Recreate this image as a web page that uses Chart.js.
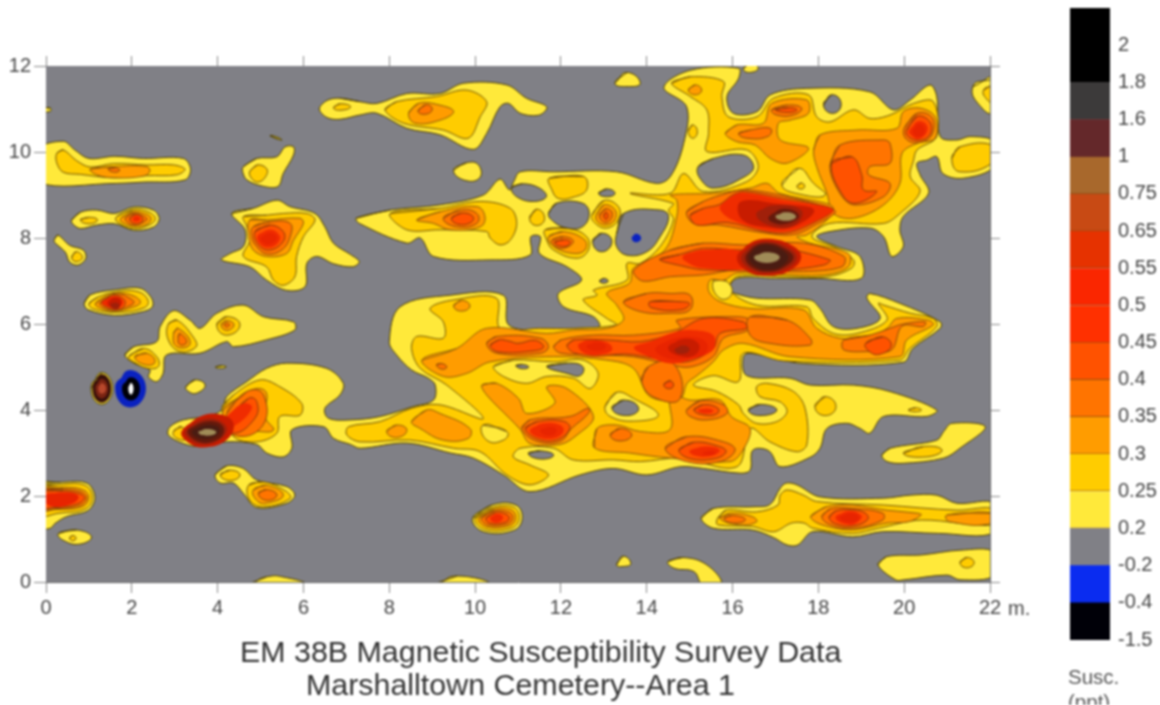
<!DOCTYPE html>
<html>
<head>
<meta charset="utf-8">
<title>EM 38B Magnetic Susceptibility Survey Data</title>
<script src="https://cdn.jsdelivr.net/npm/chart.js@4/dist/chart.umd.min.js"></script>
<style>
    html, body { margin: 0; padding: 0; background: #fff; overflow: hidden; }
    #page { position: relative; width: 1160px; height: 705px; overflow: hidden; filter: blur(0.8px);
        font-family: "Liberation Sans", Arial, sans-serif; color: #333; }
    #mapBox { position: absolute; left: 0; top: 0; width: 1040px; height: 640px; }
    #barBox { position: absolute; left: 1060px; top: -4px; width: 100px; height: 664px; }
    .title { position: absolute; white-space: nowrap; font-size: 30.4px; line-height: 36px; }
    .unit { position: absolute; left: 1008px; top: 597px; font-size: 20px; color: #444; }
    .susc { position: absolute; left: 1068px; font-size: 20.5px; line-height: 20px; color: #555; }
</style>
</head>
<body>
<div id="page">
    <div id="mapBox"><canvas id="map" width="1040" height="640"></canvas></div>
    <div id="barBox"><canvas id="bar" width="100" height="664"></canvas></div>
    <div class="unit">m.</div>
    <div class="title" style="left:240px;top:633px">EM 38B Magnetic Susceptibility Survey Data</div>
    <div class="title" style="left:306px;top:666px">Marshalltown Cemetery--Area 1</div>
    <div class="susc" style="top:667px">Susc.</div>
    <div class="susc" style="top:692px">(ppt)</div>
</div>
<script>
// colour scale, bottom to top
const bandLabels = ['-1.5', '-0.4', '-0.2', '0.2', '0.25', '0.3', '0.35', '0.4', '0.45', '0.5', '0.55', '0.65', '0.75', '1', '1.6', '1.8', '2'];
const bandColors = ['#000008', '#0a2cf0', '#808086', '#ffe93a', '#ffcc00', '#ff9c00', '#ff7400', '#ff5200', '#ff3000', '#fa2600', '#e63200', '#c84a14', '#a8682c', '#64282a', '#3c3a3a', '#000000', '#000000'];

const xTicks = [0, 2, 4, 6, 8, 10, 12, 14, 16, 18, 20, 22];
const yTicks = [0, 2, 4, 6, 8, 10, 12];

// contour outlines, each one x,y,x,y... in metres
const level20 = [
    [0 - 0.2, 9.3, -0.2, 10.05, 0.4, 10.25, 0.67, 10.05, 1.0, 9.85, 1.6, 9.9, 2.27, 9.85, 3.2, 9.85, 3.37, 9.6, 3.24, 9.35, 2.27, 9.3, 1.65, 9.27],
    [0.6, 8.42, 0.8, 8.6, 1.18, 8.65, 1.6, 8.57, 2.04, 8.72, 2.5, 8.65, 2.64, 8.45, 2.5, 8.25, 2.04, 8.18, 1.6, 8.33, 1.18, 8.3, 0.8, 8.22, 0.62, 8.33],
    [0.2, 7.98, 0.28, 8.07, 0.55, 7.83, 0.87, 7.72, 0.93, 7.53, 0.75, 7.37, 0.55, 7.44, 0.45, 7.67, 0.2, 7.9],
    [0.89, 6.48, 1.03, 6.68, 1.65, 6.8, 2.2, 6.83, 2.46, 6.6, 2.48, 6.4, 2.27, 6.29, 1.6, 6.2, 0.98, 6.33],
    [4.33, 8.57, 4.83, 8.69, 5.38, 8.88, 5.69, 8.73, 6.27, 8.57, 6.5, 8.26, 6.7, 7.88, 7.09, 7.62, 7.3, 7.45, 7.15, 7.33, 6.7, 7.4, 6.31, 7.57, 6.08, 7.41, 6.04, 6.87, 5.61, 6.78, 5.14, 7.02, 4.75, 7.33, 4.09, 7.49, 4.29, 7.64, 4.6, 7.8, 4.64, 8.19],
    [4.6, 9.66, 4.91, 9.85, 5.38, 9.89, 5.57, 10.12, 5.77, 10.12, 5.77, 9.93, 5.53, 9.5, 5.41, 9.2, 5.07, 9.2, 4.68, 9.35, 4.58, 9.55],
    [5.22, 10.38, 5.4, 10.3, 5.5, 10.28, 5.35, 10.36],
    [6.85, 11.25, 7.32, 11.17, 7.71, 11.13, 8.41, 11.36, 9.18, 11.36, 9.73, 11.6, 10.74, 11.56, 11.2, 11.25, 11.67, 11.05, 11.5, 10.86, 11.05, 10.9, 10.78, 11.13, 10.58, 11.05, 10.27, 10.43, 9.96, 10.06, 9.18, 10.4, 8.41, 10.55, 7.71, 10.9, 7.32, 10.86, 6.85, 10.76, 6.55, 10.8, 6.37, 11, 6.55, 11.2],
    [13.26, 11.6, 13.54, 11.85, 13.85, 11.6, 13.54, 11.52],
    [9.5, 9.58, 9.8, 9.75, 10.08, 9.7, 10.1, 9.39, 9.73, 9.35],
    [7.23, 8.46, 8.02, 8.65, 9.18, 8.77, 10.19, 9.0, 10.58, 9.37, 10.8, 9.12, 10.9, 9.31, 11.05, 9.54, 11.83, 9.54, 13.3, 9.54, 14.23, 9.27, 14.55, 9.43, 14.86, 10.2, 14.93, 11.05, 14.4, 11.5, 15.01, 11.9, 16.14, 11.95, 16.14, 11.71, 15.87, 11.29, 16.02, 10.9, 16.57, 10.94, 16.88, 11.33, 17.73, 11.48, 19.2, 11.4, 19.75, 10.98, 20.14, 11.21, 20.6, 11.56, 20.76, 11.29, 20.84, 10.36, 21.23, 10.28, 21.54, 10.36, 22.1, 10.24, 22.1, 9.66, 21.38, 9.39, 20.9, 9.5, 20.76, 9.89, 20.53, 9.81, 20.3, 9.74, 20.37, 9.47, 20.57, 9.04, 19.98, 8.5, 19.9, 8.19, 19.98, 7.8, 19.71, 7.57, 19.52, 8.03, 19.2, 8.23, 18.27, 8.15, 17.96, 8.03, 18.43, 7.8, 18.97, 7.57, 19, 7.06, 18, 7.06, 17, 7.06, 16.1, 7.06, 15.9, 6.79, 16.06, 6.71, 16.56, 6.6, 17.81, 6.56, 18.04, 6.36, 18.35, 5.94, 18.9, 5.9, 19.44, 6.13, 19.13, 6.6, 19.2, 6.71, 19.9, 6.48, 20.84, 6.05, 20.84, 5.9, 20.2, 5.43, 19.98, 5.11, 17.65, 5.08, 16.41, 5.32, 16.25, 5.24, 16.33, 4.8, 17.34, 4.74, 17.81, 4.58, 18.82, 4.58, 19.67, 4.43, 20.76, 4.0, 20.53, 3.85, 19.52, 3.85, 19.2, 3.46, 18.97, 3.57, 18.66, 3.69, 18.2, 3.57, 18.04, 3.11, 17.81, 2.9, 17.11, 2.68, 16.87, 3.03, 16.6, 3.11, 16.45, 3.03, 16.41, 2.6, 16.18, 2.53, 15.32, 2.64, 14.78, 2.68, 14, 2.49, 13.22, 2.64, 12.45, 2.49, 11.28, 2.1, 10.66, 2.49, 9.96, 2.88, 9.42, 3.0, 8.41, 3.23, 7.32, 3.11, 7.09, 3.2, 6.7, 3.34, 6.47, 3.61, 5.73, 3.54, 5.73, 3.11, 5.53, 2.91, 5.14, 3.0, 4.91, 3.2, 4.21, 3.26, 3.59, 3.15, 3.2, 3.22, 2.85, 3.42, 2.89, 3.61, 3.2, 3.77, 3.74, 3.85, 4.1, 4.0, 4.21, 4.31, 4.68, 4.66, 5.14, 4.97, 5.61, 5.09, 6.54, 4.97, 6.93, 4.62, 6.85, 4.35, 6.5, 4.04, 6.58, 3.81, 7.09, 3.77, 7.79, 3.85, 8.56, 4.08, 9.03, 4.23, 9.07, 4.58, 8.91, 4.74, 8.52, 4.93, 8.17, 5.28, 8.0, 5.59, 8.25, 6.4, 9.42, 6.67, 10.66, 6.67, 10.78, 5.98, 11.52, 5.86, 12.45, 5.9, 12.9, 5.94, 12.76, 6.17, 12.06, 6.4, 11.94, 6.71, 12.48, 7.02, 12.14, 7.33, 11.5, 7.64, 11.52, 8.03, 11.3, 8.03, 11.28, 7.6, 10.35, 7.49, 9.03, 7.57, 8.72, 8.0, 8.41, 7.88, 7.3, 8.34],
    [16.25, 11.93, 16.4, 12.05, 16.6, 11.95, 16.4, 11.85],
    [21.6, 11.52, 22.1, 11.71, 22.1, 10.94, 21.85, 10.98],
    [1.84, 5.28, 2.04, 5.47, 2.58, 5.59, 2.66, 5.94, 2.97, 6.31, 3.36, 6.09, 3.59, 5.9, 3.98, 6.25, 4.6, 6.44, 5.07, 6.17, 5.77, 6.05, 5.8, 5.86, 5.14, 5.63, 4.37, 5.47, 4.21, 5.59, 3.59, 5.32, 2.81, 5.28, 2.73, 4.85, 2.58, 4.66, 2.39, 4.77, 2.42, 4.93, 2.04, 5.09],
    [3.95, 5.0, 4.1, 5.03, 4.2, 5.0, 4.05, 4.97],
    [3.26, 4.54, 3.47, 4.7, 3.71, 4.58, 3.51, 4.39, 3.32, 4.43],
    [3.94, 2.49, 4.21, 2.7, 4.6, 2.64, 4.91, 2.37, 5.61, 2.22, 5.8, 2.02, 5.61, 1.83, 4.91, 1.73, 4.6, 2.06, 4.37, 2.3, 4.06, 2.3],
    [-0.2, 2.28, 0.33, 2.32, 0.95, 2.3, 1.14, 1.98, 0.99, 1.67, 0.48, 1.52, 0.21, 1.36, 0.1, 1.25, -0.2, 1.25],
    [0.29, 1.13, 0.71, 1.21, 1.06, 1.05, 0.79, 0.88, 0.4, 0.97],
    [4.79, -0.05, 5.14, 0.12, 5.61, 0.1, 6.04, -0.05],
    [9.13, -0.05, 9.58, 0.14, 10.34, -0.05],
    [9.94, 1.48, 10.39, 1.79, 10.95, 1.79, 11.1, 1.48, 10.9, 1.2, 10.19, 1.17],
    [13.3, 0.4, 13.45, 0.6, 13.63, 0.43, 13.45, 0.36],
    [14.49, 0.47, 14.84, 0.57, 15.4, 0.4, 15.75, -0.05, 15.3, -0.05, 15.1, 0.24, 14.64, 0.32],
    [19.39, 0.4, 19.59, 0.59, 20.4, 0.63, 21.3, 0.74, 22.1, 0.7, 22.1, 0.15, 21.3, 0.05, 21.0, 0.16, 20, 0.05, 19.8, 0.05],
    [15.27, 1.48, 15.55, 1.71, 16.5, 1.75, 16.87, 1.8, 17.11, 2.18, 17.25, 2.3, 17.5, 2.26, 18.04, 1.98, 19.52, 1.95, 20.14, 2.02, 20.76, 2.02, 21.23, 1.83, 22.1, 1.83, 22.1, 1.15, 20.8, 1.13, 19.5, 1.17, 18.8, 1.05, 17.87, 1.17, 17.52, 0.86, 17.27, 0.86, 16.96, 1.03, 16.46, 1.21, 15.55, 1.25],
    [19.48, 2.95, 19.67, 3.11, 20.76, 3.3, 20.92, 3.5, 21.11, 3.69, 21.89, 3.61, 21.3, 3.11, 20.92, 2.88, 19.98, 2.76, 19.6, 2.8],
    [1.05, 4.5, 1.3, 4.87, 1.55, 4.5, 1.3, 4.13],
    [-0.1, 11.02, 0.1, 11.02, 0.1, 10.95, -0.1, 10.95]
];

const level25 = [
    [0.25, 9.97, 0.4, 10.05, 0.71, 9.8, 1.03, 9.65, 1.57, 9.73, 2.35, 9.7, 2.97, 9.7, 3.24, 9.6, 3.05, 9.47, 2.35, 9.45, 1.57, 9.4, 0.8, 9.48, 0.4, 9.53, 0.25, 9.75],
    [0.8, 8.42, 1.0, 8.48, 1.2, 8.42, 1.0, 8.33],
    [1.65, 8.5, 2.04, 8.67, 2.4, 8.6, 2.55, 8.45, 2.4, 8.3, 2.04, 8.22, 1.65, 8.38],
    [0.6, 7.55, 0.7, 7.68, 0.85, 7.55, 0.7, 7.45],
    [1.0, 6.47, 1.2, 6.62, 1.65, 6.75, 2.15, 6.75, 2.38, 6.55, 2.3, 6.38, 1.65, 6.27, 1.1, 6.35],
    [4.6, 8.5, 5.14, 8.53, 5.53, 8.57, 6.08, 8.57, 6.27, 8.42, 6.0, 8.03, 5.84, 7.57, 5.8, 7.1, 5.53, 6.9, 5.3, 7.02, 5.14, 7.33, 4.6, 7.57, 4.75, 7.95, 4.68, 8.26],
    [4.75, 9.55, 4.93, 9.7, 5.15, 9.6, 5.1, 9.4, 4.93, 9.3, 4.78, 9.4],
    [7.9, 10.98, 8.17, 11.17, 9.1, 11.29, 9.8, 11.44, 10.27, 11.17, 10.12, 10.82, 9.84, 10.32, 9.26, 10.51, 8.33, 10.67],
    [6.7, 11.03, 6.85, 11.12, 7.1, 11.05, 6.85, 10.97],
    [14.58, 11.6, 15.01, 11.75, 15.79, 11.64, 15.75, 11.29, 15.9, 10.82, 16.57, 10.82, 16.95, 11.25, 17.77, 11.33, 17.96, 10.82, 18.27, 10.7, 18.82, 10.98, 19.2, 10.78, 19.67, 10.86, 20.22, 11.13, 20.68, 11.17, 20.76, 10.36, 20.3, 10.05, 20.22, 9.81, 20.14, 9.43, 20.37, 9.08, 19.9, 8.57, 19.52, 8.34, 18.27, 8.34, 17.85, 8.03, 18.43, 7.76, 18.82, 7.49, 18.78, 7.3, 18.2, 7.1, 17.2, 7.1, 16.1, 7.1, 15.94, 6.79, 16.56, 6.44, 17.73, 6.4, 17.88, 6.13, 18.35, 5.78, 18.9, 5.78, 19.6, 6.09, 19.4, 6.48, 19.52, 6.44, 20.14, 6.25, 20.68, 6.13, 20.76, 5.94, 20.13, 5.43, 19.9, 5.16, 17.18, 5.14, 16.25, 5.32, 16.14, 4.66, 15.55, 4.8, 15.09, 4.58, 15.63, 4.43, 16.14, 4.12, 16.25, 3.92, 16.56, 3.69, 17.03, 3.73, 17.27, 3.96, 17.11, 4.19, 16.64, 4.31, 16.56, 4.54, 16.8, 4.62, 17.42, 4.43, 17.69, 4.04, 17.73, 3.19, 17.5, 3.03, 16.87, 3.26, 16.41, 3.57, 16.1, 2.68, 14.78, 2.88, 13.85, 2.8, 13.22, 2.84, 12.29, 2.84, 11.83, 3.11, 11.05, 3.11, 10.89, 2.91, 11.28, 2.72, 11.71, 2.49, 11.28, 2.26, 10.74, 2.49, 10.12, 3.03, 9.5, 3.11, 8.48, 3.3, 7.32, 3.26, 7.01, 3.42, 7.05, 3.61, 7.79, 3.73, 8.52, 4.04, 9.18, 4.12, 10.19, 3.8, 9.34, 4.58, 8.72, 4.97, 8.52, 5.43, 8.64, 5.71, 9.26, 5.67, 9.26, 6.05, 8.95, 6.36, 9.5, 6.56, 10.5, 6.6, 10.58, 5.9, 11.5, 5.9, 12.29, 5.9, 13.29, 5.98, 13.07, 6.13, 12.52, 6.56, 12.84, 6.67, 12.76, 6.79, 13.54, 7.02, 13.54, 7.41, 13.85, 7.41, 14.31, 7.8, 14.62, 8.42, 14.51, 8.65, 14.62, 8.8, 13.61, 9.04, 14.55, 9.04, 14.86, 9.5, 15.32, 9.08, 16.33, 9.31, 16.6, 9.66, 16.33, 10.05, 15.4, 10.01, 15.44, 10.43, 15.4, 10.98, 15.0, 11.3],
    [21.11, 9.85, 21.3, 10.12, 22.1, 10.14, 22.1, 9.78, 21.3, 9.54],
    [21.85, 11.44, 22.1, 11.55, 22.1, 11.15, 21.95, 11.2],
    [11.73, 9.39, 12.53, 9.43, 12.6, 9.12, 12.29, 8.95, 11.94, 8.92, 11.79, 9.12],
    [11.27, 8.46, 11.44, 8.67, 11.62, 8.46, 11.44, 8.29],
    [11.63, 8.19, 12.14, 8.23, 12.6, 8.03, 12.64, 7.72, 12.37, 7.53, 11.83, 7.72, 11.67, 7.95],
    [12.72, 8.53, 13.0, 8.87, 13.34, 8.73, 13.34, 8.42, 13.07, 8.23, 12.8, 8.34],
    [8.02, 8.57, 9.18, 8.69, 10.12, 8.85, 10.82, 8.69, 10.97, 8.34, 10.82, 7.95, 10.58, 7.84, 10.35, 8.0, 10.27, 8.15, 9.18, 8.19, 8.41, 8.19],
    [2.85, 6.0, 3.05, 6.09, 3.43, 5.7, 3.5, 5.47, 3.12, 5.36, 2.85, 5.63],
    [1.92, 5.24, 2.27, 5.43, 2.58, 5.24, 2.62, 5.01, 2.35, 4.97, 2.04, 5.12],
    [3.98, 5.98, 4.21, 6.17, 4.52, 5.98, 4.21, 5.74],
    [4.1, 4.04, 4.37, 4.35, 4.99, 4.7, 5.45, 4.54, 5.96, 4.15, 5.92, 3.88, 5.45, 3.85, 5.38, 3.46, 4.91, 3.26, 4.37, 3.38],
    [2.97, 3.5, 3.16, 3.61, 3.28, 3.34, 3.05, 3.34],
    [4.06, 2.49, 4.29, 2.6, 4.52, 2.49, 4.29, 2.36],
    [4.72, 2.25, 5.07, 2.33, 5.61, 2.1, 5.69, 1.94, 5.07, 1.75, 4.75, 1.9],
    [-0.2, 2.2, 0.33, 2.27, 0.9, 2.25, 1.08, 1.98, 0.92, 1.7, 0.3, 1.6, -0.2, 1.55],
    [0.55, 1.02, 0.62, 1.08, 0.7, 1.02, 0.62, 0.96],
    [10.0, 1.48, 10.42, 1.74, 10.9, 1.74, 11.03, 1.48, 10.85, 1.25, 10.22, 1.22],
    [15.65, 1.48, 15.85, 1.67, 16.56, 1.63, 17.06, 1.79, 17.11, 2.02, 17.27, 2.14, 17.65, 2.02, 17.96, 1.87, 19.52, 1.79, 21.23, 1.67, 22.1, 1.7, 22.1, 1.33, 20.4, 1.44, 19.4, 1.25, 18.8, 1.13, 17.87, 1.25, 17.67, 1.37, 17.37, 1.37, 16.96, 1.17, 16.46, 1.29, 15.65, 1.33],
    [19.98, 2.99, 20.45, 3.15, 20.88, 3.07, 20.53, 2.91],
    [21.3, 0.45, 21.46, 0.57, 21.63, 0.45, 21.46, 0.33]
];

// light yellow pockets lying inside the 0.25 area
const pale = [
    [17.15, 9.23, 17.54, 9.62, 17.89, 9.27, 18.16, 9.0, 17.65, 9.0],
    [10.43, 5.01, 10.89, 5.16, 11.83, 5.12, 12.52, 5.16, 12.87, 4.85, 12.68, 4.5, 12.29, 4.74, 11.67, 4.78, 11.2, 4.62, 10.66, 4.78],
    [13.03, 4.08, 13.3, 4.41, 13.69, 4.27, 14.27, 3.88, 13.69, 3.74, 13.15, 3.85],
    [10.19, 3.65, 10.74, 3.5, 10.66, 3.3, 10.27, 3.3],
    [15.24, 3.53, 15.48, 3.63, 15.75, 3.56, 15.5, 3.38],
    [15.55, 7.0, 15.85, 7.0, 15.98, 6.7, 15.7, 6.6],
    [15.75, 8.0, 16.3, 8.0, 16.7, 7.95, 16.3, 7.85, 15.8, 7.88]
];

// 0.25 spots sitting on the pale pockets and column
const gold = [
    [14.97, 10.49, 15.07, 10.63, 15.18, 10.47, 15.07, 10.32],
    [17.5, 9.2, 17.6, 9.28, 17.68, 9.2, 17.6, 9.14],
    [17.92, 4.08, 18.16, 4.31, 18.41, 4.08, 18.16, 3.87],
    [20.1, 4.0, 20.26, 4.05, 20.4, 4.0, 20.26, 3.96]
];

// areas back at the grey background level
const holes = [
    [10.85, 9.17, 11.1, 9.26, 11.5, 9.16, 11.66, 8.96, 11.36, 8.85, 10.97, 8.96],
    [11.71, 8.57, 11.9, 8.81, 12.5, 8.81, 12.66, 8.57, 12.5, 8.26, 12.14, 8.23, 11.83, 8.38],
    [12.88, 9.04, 13.07, 9.14, 13.26, 9.04, 13.07, 8.96],
    [12.74, 7.92, 12.95, 8.11, 13.19, 7.92, 12.95, 7.68],
    [13.3, 8.11, 13.46, 8.57, 14.31, 8.65, 14.51, 8.5, 14.31, 8.03, 14, 7.68, 13.54, 7.6, 13.3, 7.8],
    [15.2, 9.66, 15.56, 9.85, 16.25, 9.93, 16.49, 9.66, 16.29, 9.43, 15.56, 9.16, 15.24, 9.39],
    [18.12, 11.09, 18.31, 11.33, 18.53, 11.13, 18.35, 10.9],
    [11.67, 5.01, 12.14, 5.09, 12.51, 5.01, 12.45, 4.8, 12.14, 4.85],
    [10.95, 5.03, 11.1, 5.06, 11.25, 5.0, 11.1, 4.96],
    [13.19, 4.04, 13.46, 4.23, 13.81, 4.04, 13.53, 3.87],
    [11.24, 2.99, 11.52, 3.05, 11.83, 2.95, 11.52, 2.86],
    [16.37, 4.0, 16.64, 4.13, 17.03, 4.0, 16.64, 3.87],
    [12.9, 7.0, 13.0, 7.06, 13.1, 7.0, 13.0, 6.95]
];

const level30 = [
    [1.03, 9.6, 1.57, 9.66, 2.35, 9.66, 2.42, 9.55, 2.27, 9.44, 1.57, 9.4, 1.18, 9.47],
    [1.75, 8.47, 2.04, 8.62, 2.35, 8.55, 2.45, 8.45, 2.35, 8.32, 2.04, 8.27, 1.75, 8.38],
    [1.15, 6.47, 1.4, 6.65, 1.7, 6.72, 2.05, 6.65, 2.2, 6.5, 2.0, 6.38, 1.6, 6.3, 1.3, 6.35],
    [4.75, 8.42, 5.14, 8.42, 5.92, 8.46, 6.0, 8.34, 5.77, 7.95, 5.61, 7.64, 5.14, 7.57, 4.83, 7.72, 4.72, 8.03],
    [8.45, 10.9, 8.68, 11.13, 9.18, 11.09, 9.5, 10.94, 9.18, 10.74, 8.6, 10.67],
    [11.71, 8.03, 12.06, 8.15, 12.56, 7.95, 12.56, 7.72, 12.29, 7.64, 11.83, 7.8],
    [12.82, 8.53, 13.0, 8.77, 13.26, 8.66, 13.26, 8.42, 13.05, 8.3, 12.85, 8.38],
    [8.64, 8.42, 9.18, 8.61, 10.04, 8.73, 10.23, 8.5, 10.12, 8.26, 9.42, 8.19, 9.03, 8.34],
    [14.97, 11.44, 15.13, 11.56, 15.28, 11.44, 15.13, 11.33],
    [15.83, 10.43, 16.1, 10.63, 16.72, 10.67, 16.91, 11.13, 17.73, 11.21, 17.77, 10.9, 17.34, 10.74, 17.07, 10.67, 17.11, 10.28, 17.77, 10.09, 17.27, 9.74, 16.88, 9.85, 16.53, 10.16, 16.1, 10.24],
    [17.89, 10.05, 18.04, 10.4, 18.9, 10.51, 19.83, 10.55, 19.98, 10.94, 20.37, 11.02, 20.72, 10.82, 20.72, 10.32, 20.3, 10.2, 19.95, 9.97, 19.9, 9.27, 19.52, 8.77, 18.82, 8.46, 18.35, 8.57, 18.2, 9.04, 17.96, 9.66],
    [8.76, 5.16, 9.57, 5.43, 10.27, 5.9, 11.67, 5.78, 12.29, 5.86, 13.07, 5.9, 13.46, 6.1, 13.3, 6.44, 13.07, 6.72, 13.6, 6.95, 13.69, 7.3, 14.42, 7.72, 14.7, 8.5, 14.7, 8.88, 14.55, 9.0, 15.55, 9.04, 16.41, 9.16, 16.8, 9.27, 17.1, 9.04, 18.2, 8.8, 18.35, 8.69, 18.2, 8.42, 17.73, 8.07, 17.5, 8.03, 17.81, 7.88, 18.7, 7.64, 18.7, 7.33, 18.12, 7.14, 17, 7.16, 16.1, 7.18, 15.8, 7.02, 15.48, 7.02, 15.45, 6.75, 15.71, 6.52, 16.41, 6.36, 17.65, 6.33, 17.96, 5.9, 18.5, 5.67, 19.13, 5.67, 19.6, 5.9, 19.83, 6.13, 20.57, 6.09, 20.68, 5.98, 20.06, 5.63, 19.9, 5.24, 17.34, 5.24, 16.25, 5.55, 15.79, 5.4, 15.55, 5.12, 15.17, 4.8, 14.94, 4.62, 14.78, 4.27, 14.08, 4.31, 13.69, 4.97, 13.07, 5.16, 11.83, 5.24, 10.35, 5.12, 9.8, 4.85, 9.26, 4.78],
    [10.16, 4.58, 10.5, 4.62, 11.01, 4.27, 11.2, 3.92, 11.86, 4.16, 11.67, 4.54, 12.14, 4.5, 12.76, 3.85, 12.35, 3.4, 11.98, 3.2, 11.28, 3.22, 11.05, 3.55, 10.81, 3.8, 10.27, 4.35],
    [12.78, 3.12, 12.84, 3.57, 13.3, 3.65, 13.85, 3.5, 14.55, 3.55, 14.55, 4.35, 15.01, 4.23, 15.71, 4.23, 15.98, 3.84, 16.41, 3.57, 16.22, 3.03, 15.94, 2.8, 14.55, 2.88, 13.6, 3.0],
    [8.52, 3.73, 8.87, 4.0, 9.18, 3.92, 9.88, 3.57, 9.84, 3.34, 9.26, 3.3, 8.72, 3.57],
    [7.94, 3.5, 8.17, 3.65, 8.41, 3.53, 8.17, 3.36],
    [9.5, 6.42, 9.68, 6.55, 9.88, 6.42, 9.68, 6.3],
    [2.97, 5.78, 3.08, 5.9, 3.36, 5.55, 3.05, 5.47],
    [2.07, 5.24, 2.35, 5.32, 2.54, 5.12, 2.31, 5.05],
    [4.08, 5.98, 4.21, 6.08, 4.38, 5.98, 4.21, 5.85],
    [4.13, 4.0, 4.52, 4.31, 4.91, 4.5, 5.14, 4.39, 5.1, 3.85, 5.3, 3.53, 4.83, 3.5, 4.29, 3.46],
    [4.83, 2.14, 5.14, 2.25, 5.53, 2.02, 5.14, 1.83, 4.91, 1.9],
    [-0.2, 2.15, 0.4, 2.2, 0.85, 2.15, 1.0, 1.98, 0.85, 1.75, 0.2, 1.68, -0.2, 1.65],
    [10.08, 1.48, 10.45, 1.7, 10.85, 1.68, 10.95, 1.48, 10.8, 1.3, 10.25, 1.28],
    [15.7, 1.48, 15.95, 1.6, 16.46, 1.52, 16.56, 1.4, 16.16, 1.33],
    [17.82, 1.52, 18.18, 1.75, 18.8, 1.79, 19.6, 1.67, 20.3, 1.6, 20.4, 1.56, 20.1, 1.4, 19.6, 1.37, 18.8, 1.21, 18.08, 1.33],
    [21, 1.56, 22.1, 1.6, 22.1, 1.37, 21.06, 1.4]
];

const level35 = [
    [1.45, 9.6, 1.6, 9.63, 1.72, 9.58, 1.6, 9.53],
    [1.85, 8.47, 2.06, 8.58, 2.3, 8.5, 2.35, 8.42, 2.06, 8.3, 1.88, 8.38],
    [1.25, 6.48, 1.45, 6.63, 1.7, 6.7, 1.95, 6.6, 2.05, 6.5, 1.9, 6.4, 1.6, 6.32, 1.35, 6.38],
    [4.83, 8.26, 5.22, 8.38, 5.69, 8.34, 5.69, 8.03, 5.49, 7.72, 5.14, 7.63, 4.91, 7.8, 4.79, 8.03],
    [8.67, 10.95, 8.85, 11.1, 9.0, 11.0, 8.85, 10.88],
    [11.79, 7.95, 12.06, 8.03, 12.29, 7.92, 12.06, 7.76, 11.85, 7.82],
    [12.9, 8.52, 13.05, 8.68, 13.2, 8.55, 13.05, 8.36],
    [9.26, 8.46, 9.65, 8.65, 10.04, 8.57, 10.04, 8.34, 9.57, 8.26],
    [16.91, 10.98, 17.27, 11.09, 17.61, 11.02, 17.42, 10.86, 17.03, 10.86],
    [16.14, 10.43, 16.41, 10.51, 16.88, 10.55, 16.84, 10.37, 16.33, 10.32],
    [18.27, 9.66, 18.5, 10.16, 19.52, 10.28, 19.67, 10.2, 19.67, 9.74, 19.2, 9.66, 19.17, 9.47, 19.67, 9.27, 19.52, 8.96, 18.82, 8.77, 18.5, 9.04],
    [20, 10.55, 20.3, 10.9, 20.65, 10.8, 20.65, 10.4, 20.35, 10.22, 20.05, 10.3],
    [10.27, 5.55, 10.5, 5.71, 11.52, 5.67, 11.71, 5.47, 11.52, 5.32, 10.5, 5.32],
    [11.83, 5.47, 12, 5.63, 12.76, 5.74, 13.69, 5.74, 14.78, 5.9, 14.7, 6.09, 16.1, 6.17, 16.41, 6.09, 16.37, 5.86, 15.79, 5.67, 15.55, 5.24, 15.01, 5.0, 14.55, 5.05, 13.69, 5.24, 12.76, 5.28, 12, 5.32],
    [16.41, 6.17, 17.27, 6.09, 17.81, 5.67, 17.81, 5.51, 16.87, 5.55, 16.41, 5.74],
    [18.59, 5.63, 19.2, 5.74, 19.67, 5.9, 19.98, 6.0, 20.49, 6.05, 20.45, 5.94, 19.95, 5.95, 19.71, 5.4, 19.2, 5.36, 18.59, 5.4],
    [13.46, 6.52, 14, 6.71, 14.55, 6.71, 15.01, 6.67, 15.01, 6.33, 14.55, 6.25, 13.85, 6.29],
    [14.55, 7.72, 15.32, 7.88, 16.25, 7.84, 17.65, 7.88, 18.6, 7.57, 18.55, 7.33, 17.65, 7.22, 16.1, 7.26, 15.32, 7.14, 14.55, 7.1, 13.9, 7.0, 13.7, 7.25],
    [14.93, 8.61, 15.32, 8.85, 15.9, 9.05, 16.3, 9.12, 17.2, 8.98, 18.2, 8.72, 18.4, 8.6, 17.96, 8.32, 17.42, 8.08, 16.72, 8.12, 15.7, 8.3, 15.09, 8.34],
    [11.09, 3.57, 11.28, 3.77, 12.21, 3.85, 12.64, 4.04, 12.64, 3.92, 12.25, 3.57, 11.98, 3.27, 11.44, 3.27],
    [13.15, 3.42, 13.38, 3.57, 13.65, 3.42, 13.38, 3.28],
    [14.43, 3.11, 14.93, 3.38, 15.79, 3.26, 16.06, 3.07, 15.71, 2.8, 14.93, 2.8],
    [14.93, 4.0, 15.24, 4.21, 15.79, 4.12, 15.87, 3.92, 15.4, 3.77, 15.01, 3.85],
    [13.88, 4.66, 14.04, 5.01, 14.62, 5.08, 14.78, 4.27, 14.23, 4.27],
    [9.1, 5.05, 9.22, 5.08, 9.34, 5.0, 9.22, 4.95],
    [3.08, 5.7, 3.12, 5.78, 3.28, 5.58, 3.12, 5.52],
    [4.15, 5.98, 4.21, 6.02, 4.28, 5.98, 4.21, 5.93],
    [4.21, 3.92, 4.68, 4.43, 5.07, 4.35, 5.03, 3.61, 4.37, 3.42],
    [4.95, 2.06, 5.14, 2.15, 5.38, 2.02, 5.14, 1.9],
    [-0.2, 2.12, 0.4, 2.16, 0.82, 2.1, 0.95, 1.96, 0.8, 1.78, 0.15, 1.7, -0.2, 1.68],
    [10.15, 1.48, 10.45, 1.66, 10.8, 1.62, 10.88, 1.48, 10.75, 1.34, 10.3, 1.32],
    [15.8, 1.48, 16.0, 1.55, 16.3, 1.45, 16.0, 1.37],
    [18.08, 1.52, 18.28, 1.7, 18.8, 1.71, 19.5, 1.6, 19.5, 1.44, 18.8, 1.25, 18.28, 1.33]
];

const level40 = [
    [1.95, 8.45, 2.08, 8.55, 2.25, 8.47, 2.22, 8.36, 2.06, 8.33],
    [1.3, 6.5, 1.5, 6.65, 1.7, 6.65, 1.85, 6.5, 1.7, 6.33, 1.45, 6.38],
    [4.87, 8.15, 5.22, 8.3, 5.53, 8.15, 5.53, 7.92, 5.22, 7.72, 4.95, 7.84],
    [13, 8.52, 13.05, 8.6, 13.1, 8.52, 13.05, 8.43],
    [11.85, 7.9, 12.06, 7.96, 12.22, 7.9, 12.06, 7.8],
    [9.45, 8.46, 9.68, 8.58, 9.95, 8.5, 9.9, 8.36, 9.6, 8.32],
    [17, 10.98, 17.3, 11.03, 17.5, 10.98, 17.3, 10.92],
    [18.31, 9.74, 18.78, 9.89, 19.01, 9.47, 19.05, 9.12, 19.36, 9.08, 18.9, 8.81, 18.59, 8.96],
    [20.05, 10.5, 20.3, 10.83, 20.6, 10.7, 20.6, 10.4, 20.35, 10.27, 20.1, 10.35],
    [10.35, 5.5, 10.55, 5.63, 10.8, 5.6, 11, 5.55, 11.4, 5.62, 11.6, 5.47, 11.4, 5.38, 10.55, 5.35],
    [12.14, 5.5, 12.3, 5.63, 13.07, 5.63, 13.85, 5.59, 14.62, 5.78, 15.32, 6.13, 16.25, 6.05, 16.33, 5.9, 15.71, 5.78, 15.55, 5.43, 14.93, 5.12, 14.2, 5.2, 13.5, 5.3, 12.8, 5.25, 12.3, 5.33],
    [19.1, 5.55, 19.5, 5.7, 19.7, 5.5, 19.45, 5.3, 19.2, 5.35],
    [14.08, 6.52, 14.78, 6.52, 15, 6.47, 14.8, 6.33, 14.1, 6.38],
    [14.3, 7.5, 14.78, 7.62, 15.32, 7.76, 16.25, 7.72, 16.9, 7.8, 18.27, 7.49, 18.12, 7.37, 17.1, 7.25, 15.32, 7.26, 14.78, 7.36],
    [15.01, 8.53, 15.32, 8.69, 15.7, 8.78, 16.0, 9.0, 16.28, 9.08, 17.18, 8.92, 18.0, 8.78, 18.35, 8.65, 17.95, 8.38, 17.34, 8.13, 16.8, 8.14, 15.87, 8.36, 15.17, 8.3],
    [11.17, 3.57, 11.44, 3.73, 12.06, 3.74, 12.21, 3.57, 11.9, 3.3, 11.44, 3.33],
    [14.75, 3.07, 15.1, 3.25, 15.7, 3.15, 15.85, 3.03, 15.6, 2.87, 15.0, 2.87],
    [15.1, 4.0, 15.3, 4.12, 15.65, 4.05, 15.65, 3.92, 15.35, 3.88],
    [14.4, 4.6, 14.55, 4.68, 14.62, 4.55, 14.48, 4.5],
    [4.29, 3.84, 4.72, 4.27, 4.91, 4.2, 4.87, 3.81, 4.37, 3.46],
    [-0.2, 2.1, 0.4, 2.12, 0.8, 2.05, 0.9, 1.95, 0.7, 1.8, 0.1, 1.72, -0.2, 1.7],
    [10.25, 1.48, 10.48, 1.62, 10.72, 1.58, 10.8, 1.48, 10.7, 1.38, 10.35, 1.36],
    [18.25, 1.5, 18.4, 1.65, 18.8, 1.68, 19.1, 1.6, 19.15, 1.45, 18.8, 1.3, 18.4, 1.35]
];

const level45 = [
    [2.02, 8.45, 2.1, 8.52, 2.2, 8.45, 2.1, 8.38],
    [1.3, 6.5, 1.5, 6.62, 1.7, 6.62, 1.8, 6.5, 1.65, 6.36, 1.45, 6.4],
    [4.93, 8.05, 5.22, 8.2, 5.45, 8.05, 5.4, 7.88, 5.2, 7.78, 5, 7.85],
    [20.12, 10.5, 20.35, 10.72, 20.55, 10.55, 20.35, 10.3, 20.15, 10.4],
    [12.4, 5.5, 12.6, 5.62, 13.05, 5.58, 13.2, 5.42, 13, 5.3, 12.6, 5.3],
    [13.7, 5.45, 14.1, 5.6, 14.55, 5.78, 15.01, 5.86, 15.55, 5.74, 15.55, 5.4, 15.01, 5.16, 14.55, 5.08, 14.1, 5.22],
    [14.86, 7.6, 15.32, 7.72, 16.25, 7.68, 16.41, 7.33, 15.32, 7.3, 14.86, 7.49],
    [15.7, 8.7, 15.95, 8.95, 16.25, 9.05, 17.18, 8.88, 17.9, 8.78, 18.35, 8.65, 17.95, 8.4, 17.34, 8.17, 16.8, 8.17, 16.0, 8.42],
    [11.28, 3.53, 11.59, 3.69, 11.98, 3.65, 12.06, 3.5, 11.83, 3.34, 11.44, 3.38],
    [15.0, 3.05, 15.35, 3.15, 15.7, 3.07, 15.5, 2.93, 15.1, 2.95],
    [15.2, 4.0, 15.45, 4.03, 15.55, 3.97, 15.35, 3.92],
    [4.21, 3.84, 4.6, 4.15, 4.8, 4.04, 4.37, 3.61, 4.13, 3.58],
    [10.35, 1.48, 10.5, 1.58, 10.65, 1.5, 10.5, 1.38],
    [18.4, 1.5, 18.7, 1.65, 19.0, 1.55, 18.95, 1.42, 18.7, 1.33]
];

const level50 = [
    [1.4, 6.5, 1.55, 6.62, 1.72, 6.55, 1.68, 6.38, 1.5, 6.4],
    [5, 8.0, 5.22, 8.12, 5.38, 8.0, 5.2, 7.85, 5.05, 7.9],
    [20.2, 10.48, 20.35, 10.65, 20.48, 10.5, 20.35, 10.35],
    [12.6, 5.48, 12.85, 5.58, 13.05, 5.48, 12.85, 5.37],
    [14.2, 5.42, 14.6, 5.65, 15.1, 5.7, 15.4, 5.55, 15.35, 5.3, 15, 5.2, 14.5, 5.2],
    [11.52, 3.53, 11.79, 3.61, 11.9, 3.5, 11.71, 3.4],
    [15.3, 3.0, 15.5, 3.05, 15.6, 3.0, 15.45, 2.95],
    [18.5, 1.5, 18.75, 1.6, 18.95, 1.5, 18.75, 1.38],
    [-0.05, 2.0, 0.4, 2.08, 0.75, 2.0, 0.6, 1.82, 0.1, 1.77]
];

// the dark cores, brightest contour first
const level55 = [
    [14.5, 5.45, 14.85, 5.65, 15.2, 5.55, 15.15, 5.3, 14.8, 5.25],
    [1.45, 6.5, 1.6, 6.62, 1.75, 6.55, 1.7, 6.38, 1.5, 6.4],
    [16.1, 7.55, 16.4, 7.88, 16.85, 7.98, 17.4, 7.82, 17.6, 7.55, 17.35, 7.25, 16.85, 7.12, 16.35, 7.22],
    [16.2, 8.85, 17.2, 8.78, 17.9, 8.65, 17.45, 8.28, 16.8, 8.25, 16.2, 8.45],
    [3.16, 3.5, 3.59, 3.85, 4.06, 3.9, 4.37, 3.69, 4.21, 3.3, 3.67, 3.13, 3.28, 3.27]
];
const level65 = [
    [14.65, 5.4, 14.85, 5.5, 15, 5.4, 14.8, 5.3],
    [1.5, 6.45, 1.62, 6.5, 1.72, 6.42, 1.62, 6.34],
    [16.2, 7.55, 16.45, 7.83, 16.85, 7.92, 17.3, 7.78, 17.5, 7.55, 17.3, 7.3, 16.85, 7.18, 16.4, 7.28],
    [16.55, 8.55, 16.9, 8.75, 17.6, 8.65, 17.45, 8.3, 16.9, 8.28],
    [3.24, 3.5, 3.59, 3.76, 3.98, 3.78, 4.22, 3.55, 3.98, 3.26, 3.59, 3.2, 3.32, 3.34]
];
const level75 = [
    [16.3, 7.55, 16.5, 7.8, 16.85, 7.88, 17.2, 7.76, 17.42, 7.55, 17.2, 7.32, 16.85, 7.22, 16.45, 7.32],
    [16.85, 8.5, 17.2, 8.68, 17.55, 8.52, 17.25, 8.33, 16.9, 8.38],
    [3.3, 3.5, 3.6, 3.7, 3.98, 3.72, 4.15, 3.53, 3.98, 3.3, 3.59, 3.25]
];
const level100 = [
    [16.38, 7.55, 16.55, 7.78, 16.85, 7.83, 17.15, 7.72, 17.3, 7.55, 17.15, 7.35, 16.85, 7.27, 16.55, 7.33],
    [3.4, 3.5, 3.67, 3.64, 3.98, 3.62, 4.05, 3.5, 3.9, 3.36, 3.59, 3.33]
];
const level160 = [
    [16.5, 7.55, 16.8, 7.67, 17.1, 7.55, 16.8, 7.42],
    [17.0, 8.5, 17.25, 8.6, 17.48, 8.5, 17.25, 8.4],
    [3.55, 3.48, 3.75, 3.56, 3.97, 3.48, 3.75, 3.4]
];

// the two isolated spots at 1.3 m and 2 m
const darkSpot = [[1.08, 4.5, 1.3, 4.83, 1.52, 4.5, 1.3, 4.17]];
const darkSpotMid = [[1.15, 4.5, 1.3, 4.72, 1.45, 4.5, 1.3, 4.27]];
const darkSpotCore = [[1.22, 4.5, 1.3, 4.62, 1.4, 4.5, 1.3, 4.38]];
const levelMinus20 = [
    [1.61, 4.5, 1.96, 4.93, 2.33, 4.5, 1.96, 4.06],
    [13.65, 8, 13.75, 8.1, 13.87, 8, 13.75, 7.9]
];
const levelMinus40 = [[1.77, 4.5, 1.98, 4.76, 2.19, 4.5, 1.98, 4.22]];
const minusCore = [[1.92, 4.5, 1.98, 4.63, 2.04, 4.5, 1.98, 4.36]];

const contourLine = '#4a3a00';
const layers = [
    [level20, bandColors[3], contourLine],
    [level25, bandColors[4], '#6e5206'],
    [pale, bandColors[3], '#6e5206'],
    [gold, bandColors[4], '#6e5206'],
    [holes, bandColors[2], contourLine],
    [level30, bandColors[5], '#8a5a08'],
    [level35, bandColors[6], '#8a4a08'],
    [level40, bandColors[7], '#8a3a08'],
    [level45, '#f02c00', 'transparent'],
    [level50, '#e82400', 'transparent'],
    [level55, '#c81c00', 'transparent'],
    [level65, '#a0200a', 'transparent'],
    [level75, '#641a0c', 'transparent'],
    [level100, '#4a1c12', 'transparent'],
    [level160, '#a08c58', 'transparent'],
    [darkSpot, '#38100a', 'transparent'],
    [darkSpotMid, '#7a2412', 'transparent'],
    [darkSpotCore, '#b8482c', 'transparent'],
    [levelMinus20, '#0a22c0', 'transparent'],
    [levelMinus40, '#000008', 'transparent'],
    [minusCore, '#ffffff', 'transparent']
];

function toPoints(flat) {
    const points = [];
    for (let i = 0; i < flat.length; i += 2) {
        points.push({ x: flat[i], y: flat[i + 1] });
    }
    // run over the start again so the joint stays smooth
    points.push(points[0], points[1]);
    return points;
}

// few points need a rounder curve or they come out as diamonds
function tensionFor(flat) {
    const count = flat.length / 2;
    if (count <= 4) return 0.55;
    if (count === 5) return 0.48;
    if (count <= 8) return 0.42;
    return 0.35;
}

function buildDatasets() {
    const datasets = [];
    layers.forEach(function (layer) {
        layer[0].forEach(function (shape) {
            datasets.push({
                data: toPoints(shape),
                showLine: true,
                fill: 'shape',
                tension: tensionFor(shape),
                pointRadius: 0,
                borderWidth: 1,
                borderColor: layer[2],
                backgroundColor: layer[1],
                order: -datasets.length
            });
        });
    });
    return datasets;
}

const tickFont = { family: '"Liberation Sans", Arial, sans-serif', size: 20 };

function sideScale(position, max, stepSize, size, horizontal) {
    return {
        type: 'linear', position: position, min: 0, max: max,
        border: { color: '#666' },
        grid: { drawOnChartArea: false, color: '#888', tickLength: 10 },
        ticks: { stepSize: stepSize, callback: () => '', padding: 0, maxRotation: 0 },
        afterFit: function (scale) {
            if (horizontal) { scale.height = size; } else { scale.width = size; }
        }
    };
}

const paintGrey = {
    id: 'paintGrey',
    beforeDatasetsDraw: function (chart) {
        const a = chart.chartArea;
        chart.ctx.fillStyle = bandColors[2];
        chart.ctx.fillRect(a.left, a.top, a.right - a.left, a.bottom - a.top);
    }
};

new Chart(document.getElementById('map').getContext('2d'), {
    type: 'scatter',
    data: { datasets: buildDatasets() },
    plugins: [paintGrey],
    options: {
        responsive: false,
        animation: false,
        events: [],
        layout: { padding: { top: 56, right: 40, bottom: 0, left: 0 } },
        plugins: { legend: { display: false }, tooltip: { enabled: false } },
        scales: {
            x: {
                type: 'linear', position: 'bottom', min: 0, max: 22,
                border: { color: '#666' },
                grid: { drawOnChartArea: false, color: '#888', tickLength: 11 },
                ticks: { stepSize: 2, color: '#444', font: tickFont, padding: 3, maxRotation: 0,
                    callback: (v) => xTicks.includes(v) ? String(v) : '' },
                afterFit: function (scale) { scale.height = 58; }
            },
            y: {
                type: 'linear', position: 'left', min: 0, max: 12,
                border: { color: '#666' },
                grid: { drawOnChartArea: false, color: '#888', tickLength: 12 },
                ticks: { stepSize: 2, color: '#444', font: tickFont, padding: 3,
                    callback: (v) => yTicks.includes(v) ? String(v) : '' },
                afterFit: function (scale) { scale.width = 46; }
            },
            xTop: sideScale('top', 22, 2, 10, true),
            yRight: sideScale('right', 12, 2, 10, false)
        }
    }
});

new Chart(document.getElementById('bar').getContext('2d'), {
    type: 'bar',
    data: {
        labels: ['Susc.'],
        datasets: bandColors.map(function (color, i) {
            return {
                data: [1],
                backgroundColor: color,
                borderColor: '#8a4a10',
                borderWidth: { top: 0, right: 0, left: 0, bottom: i > 2 && i < 13 ? 1 : 0 },
                borderSkipped: false,
                barPercentage: 1,
                categoryPercentage: 1
            };
        })
    },
    options: {
        responsive: false,
        animation: false,
        events: [],
        layout: { padding: { top: 0, right: 0, bottom: 20, left: 10 } },
        plugins: { legend: { display: false }, tooltip: { enabled: false } },
        scales: {
            x: { stacked: true, display: false },
            y: {
                stacked: true, position: 'right', min: 0, max: bandColors.length,
                border: { display: false },
                grid: { display: false },
                ticks: { stepSize: 1, padding: 0, color: '#444', autoSkip: false,
                    font: { family: tickFont.family, size: 20 },
                    callback: (v) => bandLabels[v] === undefined ? '' : bandLabels[v] },
                afterFit: function (scale) { scale.width = 50; }
            }
        }
    }
});
</script>
</body>
</html>
